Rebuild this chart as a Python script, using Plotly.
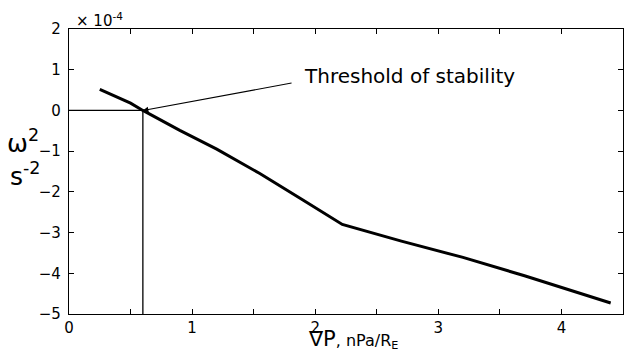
import plotly.graph_objects as go

# Pressure gradient (nPa/R_E) and squared growth rate (units of 1e-4 s^-2)
grad_p = [0.25, 0.50, 0.60, 0.90, 1.20, 1.55, 1.90, 2.12, 2.22, 2.70, 3.20, 3.70, 4.40]
omega2 = [0.52, 0.18, 0.00, -0.49, -0.95, -1.55, -2.20, -2.62, -2.80, -3.21, -3.61, -4.06, -4.73]

# Marginal stability point
thr_x = 0.6
thr_y = 0.0

x_ticks = [0, 0.5, 1, 1.5, 2, 2.5, 3, 3.5, 4, 4.5]
x_ticklabels = ["0", "", "1", "", "2", "", "3", "", "4", ""]
y_ticks = [-5, -4, -3, -2, -1, 0, 1, 2]

FONT = "DejaVu Sans"
L, R, T, B = 69, 1, 29, 39
W, H = 624, 353
PW, PH = W - L - R, H - T - B


def px(xp):
    return (xp - L) / PW


def py(yp):
    return (H - B - yp) / PH


fig = go.Figure()

# Guide lines from the axes to the threshold point
fig.add_trace(go.Scatter(x=[0, thr_x], y=[thr_y, thr_y], mode="lines",
                         line=dict(color="black", width=1.3), hoverinfo="skip"))
fig.add_trace(go.Scatter(x=[thr_x, thr_x], y=[-5, thr_y], mode="lines",
                         line=dict(color="black", width=1.3), hoverinfo="skip"))

# Dispersion curve
fig.add_trace(go.Scatter(x=grad_p, y=omega2, mode="lines",
                         line=dict(color="black", width=3)))

axis_common = dict(
    showline=True, linecolor="black", linewidth=1.3, mirror="ticks",
    ticks="inside", ticklen=5, tickwidth=1.3, tickcolor="black",
    showgrid=False, zeroline=False,
    tickfont=dict(family=FONT, size=15, color="black"),
)

fig.update_xaxes(range=[0, 4.5], tickvals=x_ticks, ticktext=x_ticklabels, **axis_common)
fig.update_yaxes(range=[-5, 2], tickvals=y_ticks, ticklabelstandoff=4, **axis_common)

annotations = [
    # Arrow pointing at the threshold
    dict(x=thr_x, y=thr_y, xref="x", yref="y", ax=1.82, ay=0.68, axref="x", ayref="y",
         text="", showarrow=True, arrowhead=2, arrowsize=1, arrowwidth=1.1,
         arrowcolor="black", standoff=0),
    dict(x=1.894, y=0.845, xref="x", yref="y", text="Threshold of stability",
         showarrow=False, xanchor="left", yanchor="middle",
         font=dict(family=FONT, size=20, color="black")),
    # Exponent for the y axis
    dict(x=px(74), y=py(20), xref="paper", yref="paper", text="× 10<sup>-4</sup>",
         showarrow=False, xanchor="left", yanchor="middle",
         font=dict(family=FONT, size=15, color="black")),
    # Y axis title
    dict(x=px(23), y=py(141), xref="paper", yref="paper", text="ω<sup>2</sup>",
         showarrow=False, xanchor="center", yanchor="middle",
         font=dict(family=FONT, size=25, color="black")),
    dict(x=px(25), y=py(174), xref="paper", yref="paper", text="s<sup>-2</sup>",
         showarrow=False, xanchor="center", yanchor="middle",
         font=dict(family=FONT, size=25, color="black")),
    # X axis title
    dict(x=px(353), y=py(339), xref="paper", yref="paper",
         text="∇P<span style='font-size:16px'>, nPa/R<sub>E</sub></span>",
         showarrow=False, xanchor="center", yanchor="middle",
         font=dict(family=FONT, size=21, color="black")),
]

fig.update_layout(
    width=W, height=H,
    margin=dict(l=L, r=R, t=T, b=B),
    paper_bgcolor="white", plot_bgcolor="white",
    showlegend=False,
    annotations=annotations,
)

fig.write_html("out.html")
